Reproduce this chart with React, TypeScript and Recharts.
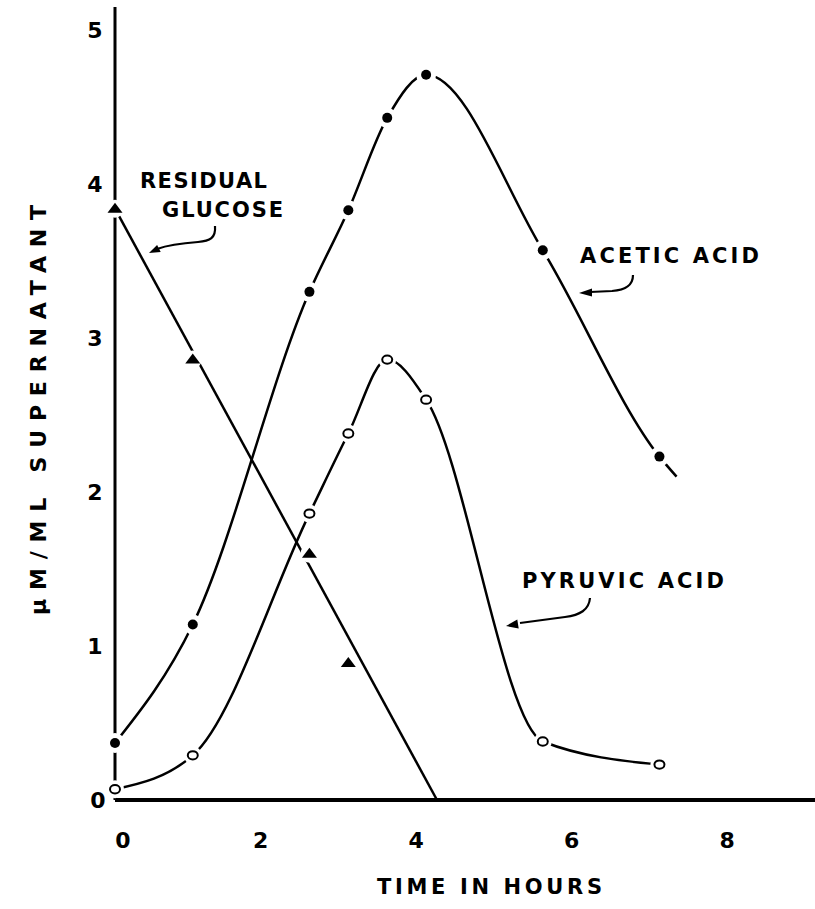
import React from 'react';
import { LineChart, Line, XAxis, YAxis } from 'recharts';

// ---- data ----
const hours = [0, 1, 2.5, 3, 3.5, 4, 5.5, 7];
const aceticAcid = [0.37, 1.14, 3.3, 3.83, 4.43, 4.71, 3.57, 2.23];
const pyruvicAcid = [0.07, 0.29, 1.86, 2.38, 2.86, 2.6, 0.38, 0.23];
const glucoseHours = [0, 1, 2.5, 3];
const residualGlucose = [3.84, 2.86, 1.6, 0.89];
const glucoseLineHours = [0, 4.14];
const glucoseLineValues = [3.84, 0];
const aceticTailHour = 7.22;
const aceticTailValue = 2.1;
const xTicks = [0, 2, 4, 6, 8];
const yTicks = [0, 1, 2, 3, 4, 5];

const aceticData = hours.map((t, i) => ({ t, v: aceticAcid[i] }));
const aceticCurve = [...aceticData, { t: aceticTailHour, v: aceticTailValue }];
const pyruvicData = hours.map((t, i) => ({ t, v: pyruvicAcid[i] }));
const glucoseData = glucoseHours.map((t, i) => ({ t, v: residualGlucose[i] }));
const glucoseLine = glucoseLineHours.map((t, i) => ({ t, v: glucoseLineValues[i] }));

const FONT = "'DejaVu Sans', 'Liberation Sans', sans-serif";

const FilledDot = (props: any) => {
  const { cx, cy, index } = props;
  if (cx == null || cy == null) return <g key={`f${index}`} />;
  return (
    <g key={`f${index}`}>
      <circle cx={cx} cy={cy} r={10} fill="#fff" />
      <circle cx={cx} cy={cy} r={5} fill="#000" />
    </g>
  );
};

const OpenDot = (props: any) => {
  const { cx, cy, index } = props;
  if (cx == null || cy == null) return <g key={`o${index}`} />;
  return (
    <g key={`o${index}`}>
      <circle cx={cx} cy={cy} r={9} fill="#fff" />
      <ellipse cx={cx} cy={cy} rx={5} ry={4.2} fill="#fff" stroke="#000" strokeWidth={2} />
    </g>
  );
};

const TriDot = (props: any) => {
  const { cx, cy, index } = props;
  if (cx == null || cy == null) return <g key={`t${index}`} />;
  return (
    <g key={`t${index}`}>
      <circle cx={cx} cy={cy} r={9} fill="#fff" />
      <polygon points={`${cx},${cy - 6} ${cx - 7.5},${cy + 4} ${cx + 7.5},${cy + 4}`} fill="#000" />
    </g>
  );
};

const XTick = (props: any) => {
  const { x, y, payload } = props;
  const dx = payload.value === 0 ? 8 : -10;
  return (
    <text x={x + dx} y={y + 48} textAnchor="middle" fontFamily={FONT} fontWeight="bold" fontSize={22} fill="#000">
      {payload.value}
    </text>
  );
};

const YTick = (props: any) => {
  const { x, y, payload } = props;
  const dx = payload.value === 0 ? -17 : -20;
  return (
    <text x={x + dx} y={y + 8} textAnchor="middle" fontFamily={FONT} fontWeight="bold" fontSize={22} fill="#000">
      {payload.value}
    </text>
  );
};

const txt = { fontFamily: FONT, fontWeight: 'bold' as const, fontSize: 21, fill: '#000' };

export default function App() {
  return (
    <div style={{ position: 'absolute', left: 0, top: 0, width: 815, height: 909, background: '#fff' }}>
      <LineChart width={815} height={909} margin={{ top: 7, right: 0, bottom: 0, left: 0 }}>
        <XAxis
          type="number"
          dataKey="t"
          domain={[0, 9]}
          ticks={xTicks}
          interval={0}
          height={109}
          tickLine={false}
          tickSize={0}
          tickMargin={0}
          axisLine={{ stroke: '#000', strokeWidth: 4 }}
          tick={<XTick />}
        />
        <YAxis
          type="number"
          dataKey="v"
          domain={[0, 5.15]}
          ticks={yTicks}
          interval={0}
          width={115}
          tickLine={false}
          tickSize={0}
          tickMargin={0}
          axisLine={{ stroke: '#000', strokeWidth: 3 }}
          tick={<YTick />}
        />
        <Line data={glucoseLine} dataKey="v" type="linear" stroke="#000" strokeWidth={2.5} dot={false} activeDot={false} isAnimationActive={false} />
        <Line data={aceticCurve} dataKey="v" type="monotone" stroke="#000" strokeWidth={2.5} dot={false} activeDot={false} isAnimationActive={false} />
        <Line data={pyruvicData} dataKey="v" type="monotone" stroke="#000" strokeWidth={2.5} dot={false} activeDot={false} isAnimationActive={false} />
        <Line data={aceticData} dataKey="v" stroke="none" dot={FilledDot} activeDot={false} isAnimationActive={false} />
        <Line data={pyruvicData} dataKey="v" stroke="none" dot={OpenDot} activeDot={false} isAnimationActive={false} />
        <Line data={glucoseData} dataKey="v" stroke="none" dot={TriDot} activeDot={false} isAnimationActive={false} />

        {/* annotations */}
        <text x={140} y={188} textLength={127} lengthAdjust="spacing" {...txt}>RESIDUAL</text>
        <text x={162} y={217} textLength={121} lengthAdjust="spacing" {...txt}>GLUCOSE</text>
        <path d="M215,226 C216,238 210,241 198,242 C184,243 168,245 157,249" fill="none" stroke="#000" strokeWidth={2.2} />
        <polygon points="149,253 160.7,252.1 157.1,244.9" fill="#000" />

        <text x={580} y={263} textLength={179} lengthAdjust="spacing" {...txt}>ACETIC ACID</text>
        <path d="M633,275 C633,286 625,290 612,291 L590,292" fill="none" stroke="#000" strokeWidth={2.2} />
        <polygon points="579,293 592,288.5 592,296.5" fill="#000" />

        <text x={522} y={588} textLength={202} lengthAdjust="spacing" {...txt}>PYRUVIC ACID</text>
        <path d="M590,598 C589,610 580,615 565,617 C550,619 535,621 520,623" fill="none" stroke="#000" strokeWidth={2.2} />
        <polygon points="506,626 518.7,628.4 517.3,619.6" fill="#000" />

        <text x={377} y={894} textLength={225} lengthAdjust="spacing" {...txt}>TIME IN HOURS</text>
        <text transform="translate(46,410) rotate(-90)" x={0} y={0} textAnchor="middle" textLength={410} lengthAdjust="spacing" {...txt} fontSize={22}>
          μM/ML SUPERNATANT
        </text>
      </LineChart>
    </div>
  );
}
